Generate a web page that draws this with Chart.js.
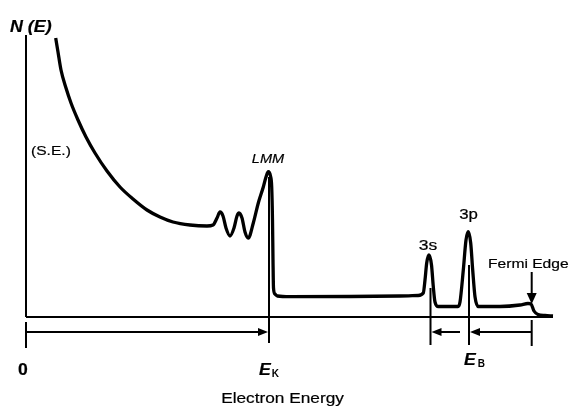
<!DOCTYPE html>
<html>
<head>
<meta charset="utf-8">
<script src="https://cdn.jsdelivr.net/npm/chart.js@4/dist/chart.umd.min.js"></script>
<style>
  html, body { margin: 0; padding: 0; background: #fff; }
  canvas { display: block; }
</style>
</head>
<body>
<canvas id="c" width="579" height="410"></canvas>
<script>
// Schematic electron spectrum N(E) versus electron energy (arbitrary units)
const energy = [29.7, 32, 35, 40, 45, 52, 60, 69, 81, 94, 107, 121, 134, 147, 164, 181,
  187, 191, 194, 197, 200, 204, 208, 211, 213, 216, 219, 222.3, 227.3, 232.3, 237.3, 240,
  242.3, 244.5, 245.7, 246.5, 247, 247.5, 249, 251.5, 264, 324, 374, 392, 397.3, 399,
  400.7, 403, 405.5, 407.3, 409, 412.3, 432, 434, 437.3, 440, 442.3, 444.7, 446.7, 449,
  452.3, 474, 494, 502, 505, 508, 512, 519, 527];
const intensity = [279, 265, 247, 229, 214, 197, 180, 164, 146, 130, 118, 107, 100, 95, 92, 91,
  92, 99, 105, 101, 89, 81, 89, 101, 104, 99, 85, 79, 94, 114, 130, 140,
  145.3, 141, 130, 97, 57, 29, 23, 21, 20.3, 20.5, 21, 21.5, 24, 37,
  54, 62, 52, 30.3, 15, 10.5, 10.5, 15, 47, 77, 85.3, 74, 47, 20.3,
  10.5, 10.5, 12, 13.5, 13, 6, 2.5, 1.5, 1];

// Reference energies: origin, Auger LMM (E_K), 3s, 3p, Fermi edge
const markerNames = ['0', 'LMM', '3s', '3p', 'Fermi'];
const markerEnergy = [0, 243, 404.5, 443, 505.7];
const markerTop = [-5, 140, 29, 52, -3];
const markerBottom = [-31, -26, -28, -28, -29];

const E_MAX = 527, N_MAX = 280, N_MIN = -28;
const FONT = '"Liberation Sans", Arial, sans-serif';

const spectrum = energy.map((e, i) => ({ x: e, y: intensity[i] }));

const lineDs = (data, width) => ({
  data, borderColor: '#000', borderWidth: width, pointRadius: 0,
  fill: false, tension: 0, clip: false, showLine: true
});

const datasets = [
  lineDs([{ x: 0, y: 0 }, { x: E_MAX, y: 0 }], 2),          // energy axis
  lineDs([{ x: 0, y: 0 }, { x: 0, y: N_MAX + 2 }], 2),      // N(E) axis
  ...markerEnergy.map((e, i) => lineDs([{ x: e, y: markerTop[i] }, { x: e, y: markerBottom[i] }], 2)),
  Object.assign(lineDs(spectrum, 3.3), { cubicInterpolationMode: 'monotone', tension: 0.4 })
];

function label(ctx, text, x, y, opt) {
  const o = Object.assign({ size: 14, weight: 'normal', style: 'normal', align: 'center', sx: 1.18, stroke: 0.2 }, opt);
  ctx.save();
  ctx.font = `${o.style} ${o.weight} ${o.size}px ${FONT}`;
  ctx.fillStyle = '#000';
  ctx.strokeStyle = '#000';
  ctx.textBaseline = 'alphabetic';
  const w = ctx.measureText(text).width * o.sx;
  let left = x;
  if (o.align === 'center') left = x - w / 2;
  else if (o.align === 'right') left = x - w;
  ctx.translate(left, y);
  ctx.scale(o.sx, 1);
  ctx.fillText(text, 0, 0);
  if (o.stroke > 0) {
    ctx.lineWidth = o.stroke;
    ctx.strokeText(text, 0, 0);
  }
  ctx.restore();
  return left + w;
}

function arrow(ctx, x1, y1, x2, y2, len, half) {
  const a = Math.atan2(y2 - y1, x2 - x1);
  ctx.save();
  ctx.strokeStyle = '#000';
  ctx.fillStyle = '#000';
  ctx.lineWidth = 2;
  ctx.beginPath();
  ctx.moveTo(x1, y1);
  ctx.lineTo(x2 - Math.cos(a) * len * 0.6, y2 - Math.sin(a) * len * 0.6);
  ctx.stroke();
  ctx.beginPath();
  ctx.moveTo(x2, y2);
  ctx.lineTo(x2 - Math.cos(a) * len + Math.sin(a) * half, y2 - Math.sin(a) * len - Math.cos(a) * half);
  ctx.lineTo(x2 - Math.cos(a) * len - Math.sin(a) * half, y2 - Math.sin(a) * len + Math.cos(a) * half);
  ctx.closePath();
  ctx.fill();
  ctx.restore();
}

const annotations = {
  id: 'annotations',
  afterDraw(chart) {
    const { ctx } = chart;
    const X = v => chart.scales.x.getPixelForValue(v);
    const Y = v => chart.scales.y.getPixelForValue(v);
    const [e0, eK, e3s, e3p, eF] = markerEnergy;
    const yArrow = Y(-15);

    // kinetic energy span and binding energy spans
    arrow(ctx, X(e0), yArrow, X(eK - 1), yArrow, 10, 4);
    arrow(ctx, X(e3s + 29.5), yArrow, X(e3s + 1), yArrow, 10, 4);
    arrow(ctx, X(eF), yArrow, X(e3p + 1), yArrow, 10, 4);
    // Fermi edge pointer
    arrow(ctx, X(eF), Y(45), X(eF), Y(13), 11, 5);

    label(ctx, 'N (E)', X(-16), Y(285), { size: 17, weight: 'bold', style: 'italic', align: 'left', sx: 1.05, stroke: 0.2 });
    label(ctx, '(S.E.)', X(5), Y(162), { size: 13, align: 'left', sx: 1.2 });
    label(ctx, 'LMM', X(eK - 1), Y(154), { size: 13, style: 'italic', sx: 1.12 });
    label(ctx, '3s', X(e3s - 2.5), Y(67), { size: 14, sx: 1.25 });
    label(ctx, '3p', X(e3p - 0.5), Y(98), { size: 14, sx: 1.2 });
    label(ctx, 'Fermi Edge', X(462), Y(49), { size: 13, align: 'left', sx: 1.2 });
    label(ctx, '0', X(e0 - 3), Y(-58), { size: 16, weight: 'bold', sx: 1.1 });
    const kx = label(ctx, 'E', X(eK - 10), Y(-58), { size: 16, weight: 'bold', style: 'italic', align: 'left', sx: 1.1 });
    label(ctx, 'K', kx + 1, Y(-60), { size: 10, weight: 'bold', align: 'left', sx: 1.0, stroke: 0 });
    const bx = label(ctx, 'E', X(e3p - 5), Y(-48), { size: 16, weight: 'bold', style: 'italic', align: 'left', sx: 1.1 });
    label(ctx, 'B', bx + 2, Y(-50), { size: 10, weight: 'bold', align: 'left', sx: 1.0, stroke: 0 });
    label(ctx, 'Electron Energy', X(256.5), Y(-86), { size: 15, sx: 1.15 });
  }
};

new Chart(document.getElementById('c'), {
  type: 'line',
  data: { datasets },
  options: {
    responsive: false,
    animation: false,
    devicePixelRatio: 1,
    parsing: true,
    layout: { padding: { left: 26, right: 26, top: 37, bottom: 65 } },
    scales: {
      x: { type: 'linear', min: 0, max: E_MAX, display: false },
      y: { type: 'linear', min: N_MIN, max: N_MAX, display: false }
    },
    plugins: { legend: { display: false }, tooltip: { enabled: false } }
  },
  plugins: [annotations]
});
</script>
</body>
</html>
